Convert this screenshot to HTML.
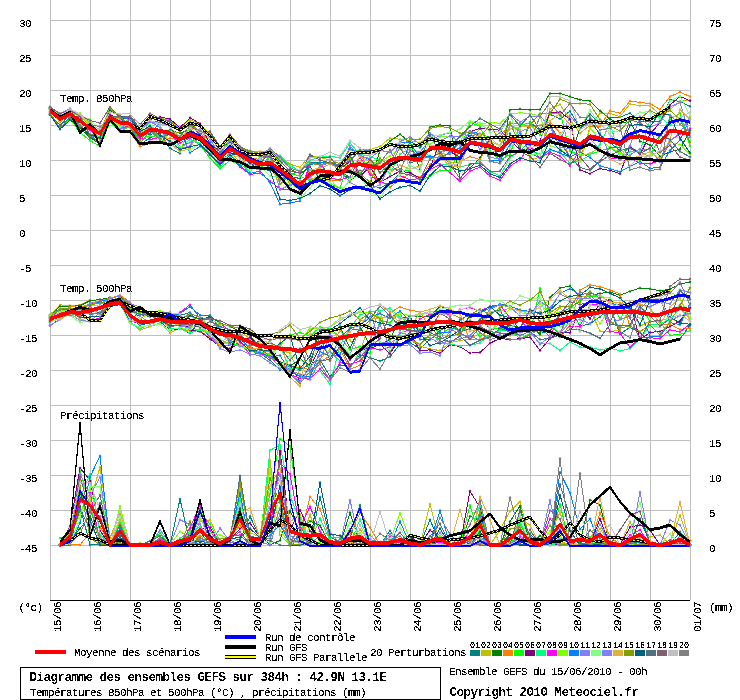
<!DOCTYPE html><html><head><meta charset="utf-8"><style>html,body{margin:0;padding:0;background:#fff;width:740px;height:700px;overflow:hidden}svg{display:block}.t{font-family:"Liberation Mono",monospace;font-size:11px;letter-spacing:-0.6px;fill:#000}.b{font-family:"Liberation Mono",monospace;font-size:12.5px;letter-spacing:-0.5px;font-weight:bold;fill:#000}.s{font-family:"Liberation Mono",monospace;font-size:8.333px;fill:#000}text{filter:url(#cr)}text.b{filter:url(#cb)}</style></head><body><svg width="740" height="700" viewBox="0 0 740 700"><defs><filter id="cr" color-interpolation-filters="sRGB"><feComponentTransfer><feFuncA type="discrete" tableValues="0 0 1 1 1"/></feComponentTransfer></filter><filter id="cb" color-interpolation-filters="sRGB"><feComponentTransfer><feFuncA type="discrete" tableValues="0 1"/></feComponentTransfer></filter></defs><rect width="740" height="700" fill="#fff"/><path d="M50.5 0V600M90.5 0V600M130.5 0V600M170.5 0V600M210.5 0V600M250.5 0V600M290.5 0V600M330.5 0V600M370.5 0V600M410.5 0V600M450.5 0V600M490.5 0V600M530.5 0V600M570.5 0V600M610.5 0V600M650.5 0V600M690.5 0V600M50 20.5H690M50 55.5H690M50 90.5H690M50 125.5H690M50 160.5H690M50 195.5H690M50 230.5H690M50 265.5H690M50 300.5H690M50 335.5H690M50 370.5H690M50 405.5H690M50 440.5H690M50 475.5H690M50 510.5H690M50 545.5H690" stroke="#c0c0c0" stroke-width="1" fill="none" shape-rendering="crispEdges"/><path d="M50 600.5H690" stroke="#000" stroke-width="1" shape-rendering="crispEdges"/><text class="t" transform="translate(19 26.6) scale(1.0000 1.0)">30</text><text class="t" transform="translate(19 61.6) scale(1.0000 1.0)">25</text><text class="t" transform="translate(19 96.6) scale(1.0000 1.0)">20</text><text class="t" transform="translate(19 131.6) scale(1.0000 1.0)">15</text><text class="t" transform="translate(19 166.6) scale(1.0000 1.0)">10</text><text class="t" transform="translate(19 201.6) scale(1.0000 1.0)">5</text><text class="t" transform="translate(19 236.6) scale(1.0000 1.0)">0</text><text class="t" transform="translate(19 271.6) scale(1.0000 1.0)">-5</text><text class="t" transform="translate(19 306.6) scale(1.0000 1.0)">-10</text><text class="t" transform="translate(19 341.6) scale(1.0000 1.0)">-15</text><text class="t" transform="translate(19 376.6) scale(1.0000 1.0)">-20</text><text class="t" transform="translate(19 411.6) scale(1.0000 1.0)">-25</text><text class="t" transform="translate(19 446.6) scale(1.0000 1.0)">-30</text><text class="t" transform="translate(19 481.6) scale(1.0000 1.0)">-35</text><text class="t" transform="translate(19 516.6) scale(1.0000 1.0)">-40</text><text class="t" transform="translate(19 551.6) scale(1.0000 1.0)">-45</text><text class="t" transform="translate(709 26.6) scale(1.0000 1.0)">75</text><text class="t" transform="translate(709 61.6) scale(1.0000 1.0)">70</text><text class="t" transform="translate(709 96.6) scale(1.0000 1.0)">65</text><text class="t" transform="translate(709 131.6) scale(1.0000 1.0)">60</text><text class="t" transform="translate(709 166.6) scale(1.0000 1.0)">55</text><text class="t" transform="translate(709 201.6) scale(1.0000 1.0)">50</text><text class="t" transform="translate(709 236.6) scale(1.0000 1.0)">45</text><text class="t" transform="translate(709 271.6) scale(1.0000 1.0)">40</text><text class="t" transform="translate(709 306.6) scale(1.0000 1.0)">35</text><text class="t" transform="translate(709 341.6) scale(1.0000 1.0)">30</text><text class="t" transform="translate(709 376.6) scale(1.0000 1.0)">25</text><text class="t" transform="translate(709 411.6) scale(1.0000 1.0)">20</text><text class="t" transform="translate(709 446.6) scale(1.0000 1.0)">15</text><text class="t" transform="translate(709 481.6) scale(1.0000 1.0)">10</text><text class="t" transform="translate(709 516.6) scale(1.0000 1.0)">5</text><text class="t" transform="translate(709 551.6) scale(1.0000 1.0)">0</text><text class="t" transform="translate(18.5 611) scale(1.0000 1.0)">(°c)</text><text class="t" transform="translate(709 611) scale(1.0000 1.0)">(mm)</text><text class="t" transform="translate(61 632) rotate(-90) scale(1.0000 1.0)">15/06</text><text class="t" transform="translate(101 632) rotate(-90) scale(1.0000 1.0)">16/06</text><text class="t" transform="translate(141 632) rotate(-90) scale(1.0000 1.0)">17/06</text><text class="t" transform="translate(181 632) rotate(-90) scale(1.0000 1.0)">18/06</text><text class="t" transform="translate(221 632) rotate(-90) scale(1.0000 1.0)">19/06</text><text class="t" transform="translate(261 632) rotate(-90) scale(1.0000 1.0)">20/06</text><text class="t" transform="translate(301 632) rotate(-90) scale(1.0000 1.0)">21/06</text><text class="t" transform="translate(341 632) rotate(-90) scale(1.0000 1.0)">22/06</text><text class="t" transform="translate(381 632) rotate(-90) scale(1.0000 1.0)">23/06</text><text class="t" transform="translate(421 632) rotate(-90) scale(1.0000 1.0)">24/06</text><text class="t" transform="translate(461 632) rotate(-90) scale(1.0000 1.0)">25/06</text><text class="t" transform="translate(501 632) rotate(-90) scale(1.0000 1.0)">26/06</text><text class="t" transform="translate(541 632) rotate(-90) scale(1.0000 1.0)">27/06</text><text class="t" transform="translate(581 632) rotate(-90) scale(1.0000 1.0)">28/06</text><text class="t" transform="translate(621 632) rotate(-90) scale(1.0000 1.0)">29/06</text><text class="t" transform="translate(661 632) rotate(-90) scale(1.0000 1.0)">30/06</text><text class="t" transform="translate(701 632) rotate(-90) scale(1.0000 1.0)">01/07</text><text class="t" transform="translate(60 101.5) scale(1.0000 1.0)">Temp. 850hPa</text><text class="t" transform="translate(60 291.5) scale(1.0000 1.0)">Temp. 500hPa</text><text class="t" transform="translate(60 418.5) scale(1.0000 1.0)">Précipitations</text><rect x="35" y="650" width="31" height="4" fill="#ff0000"/><text class="t" transform="translate(74 656) scale(1.0000 1.0)">Moyenne des scénarios</text><rect x="225" y="635" width="31" height="4" fill="#0000ff"/><rect x="225" y="645" width="31" height="4" fill="#000"/><rect x="225" y="655" width="31" height="4" fill="#000"/><rect x="225" y="656" width="31" height="2" fill="#ffff00"/><text class="t" transform="translate(265 641) scale(1.0000 1.0)">Run de contrôle</text><text class="t" transform="translate(265 651) scale(1.0000 1.0)">Run GFS</text><text class="t" transform="translate(265 661) scale(1.0000 1.0)">Run GFS Parallele</text><text class="t" transform="translate(370 655.5) scale(1.0000 1.0)">20 Perturbations</text><rect x="470" y="650" width="10" height="6" fill="#008080"/><text class="s" x="470" y="647.5">01</text><rect x="481" y="650" width="10" height="6" fill="#c0c000"/><text class="s" x="481" y="647.5">02</text><rect x="492" y="650" width="10" height="6" fill="#008000"/><text class="s" x="492" y="647.5">03</text><rect x="503" y="650" width="10" height="6" fill="#ff8000"/><text class="s" x="503" y="647.5">04</text><rect x="514" y="650" width="10" height="6" fill="#00ff00"/><text class="s" x="514" y="647.5">05</text><rect x="525" y="650" width="10" height="6" fill="#800080"/><text class="s" x="525" y="647.5">06</text><rect x="536" y="650" width="10" height="6" fill="#00ff80"/><text class="s" x="536" y="647.5">07</text><rect x="547" y="650" width="10" height="6" fill="#ff00ff"/><text class="s" x="547" y="647.5">08</text><rect x="558" y="650" width="10" height="6" fill="#80ff00"/><text class="s" x="558" y="647.5">09</text><rect x="569" y="650" width="10" height="6" fill="#0080ff"/><text class="s" x="569" y="647.5">10</text><rect x="580" y="650" width="10" height="6" fill="#8080ff"/><text class="s" x="580" y="647.5">11</text><rect x="591" y="650" width="10" height="6" fill="#80ff80"/><text class="s" x="591" y="647.5">12</text><rect x="602" y="650" width="10" height="6" fill="#8080ff"/><text class="s" x="602" y="647.5">13</text><rect x="613" y="650" width="10" height="6" fill="#e0b040"/><text class="s" x="613" y="647.5">14</text><rect x="624" y="650" width="10" height="6" fill="#80a000"/><text class="s" x="624" y="647.5">15</text><rect x="635" y="650" width="10" height="6" fill="#006080"/><text class="s" x="635" y="647.5">16</text><rect x="646" y="650" width="10" height="6" fill="#507080"/><text class="s" x="646" y="647.5">17</text><rect x="657" y="650" width="10" height="6" fill="#806070"/><text class="s" x="657" y="647.5">18</text><rect x="668" y="650" width="10" height="6" fill="#c0c0c0"/><text class="s" x="668" y="647.5">19</text><rect x="679" y="650" width="10" height="6" fill="#808080"/><text class="s" x="679" y="647.5">20</text><rect x="20.5" y="667.5" width="420" height="32" fill="none" stroke="#000" stroke-width="1"/><text class="b" x="29.5" y="681">Diagramme des ensembles GEFS sur 384h : 42.9N 13.1E</text><text class="t" transform="translate(30 696) scale(1.0000 1.0)">Températures 850hPa et 500hPa (°C) , précipitations (mm)</text><text class="t" transform="translate(449 674.6) scale(1.0000 1.0)">Ensemble GEFS du 15/06/2010 - 00h</text><text class="b" x="449.5" y="696.3">Copyright 2010 Meteociel.fr</text><defs><marker id="k0" markerUnits="userSpaceOnUse" markerWidth="5" markerHeight="5" refX="2.5" refY="2.5" overflow="visible"><path d="M2.5 1L4 2.5 2.5 4 1 2.5z" fill="#008080"/></marker><marker id="k1" markerUnits="userSpaceOnUse" markerWidth="5" markerHeight="5" refX="2.5" refY="2.5" overflow="visible"><path d="M2.5 1L4 2.5 2.5 4 1 2.5z" fill="#c0c000"/></marker><marker id="k2" markerUnits="userSpaceOnUse" markerWidth="5" markerHeight="5" refX="2.5" refY="2.5" overflow="visible"><path d="M2.5 1L4 2.5 2.5 4 1 2.5z" fill="#008000"/></marker><marker id="k3" markerUnits="userSpaceOnUse" markerWidth="5" markerHeight="5" refX="2.5" refY="2.5" overflow="visible"><path d="M2.5 1L4 2.5 2.5 4 1 2.5z" fill="#ff8000"/></marker><marker id="k4" markerUnits="userSpaceOnUse" markerWidth="5" markerHeight="5" refX="2.5" refY="2.5" overflow="visible"><path d="M2.5 1L4 2.5 2.5 4 1 2.5z" fill="#00ff00"/></marker><marker id="k5" markerUnits="userSpaceOnUse" markerWidth="5" markerHeight="5" refX="2.5" refY="2.5" overflow="visible"><path d="M2.5 1L4 2.5 2.5 4 1 2.5z" fill="#800080"/></marker><marker id="k6" markerUnits="userSpaceOnUse" markerWidth="5" markerHeight="5" refX="2.5" refY="2.5" overflow="visible"><path d="M2.5 1L4 2.5 2.5 4 1 2.5z" fill="#00ff80"/></marker><marker id="k7" markerUnits="userSpaceOnUse" markerWidth="5" markerHeight="5" refX="2.5" refY="2.5" overflow="visible"><path d="M2.5 1L4 2.5 2.5 4 1 2.5z" fill="#ff00ff"/></marker><marker id="k8" markerUnits="userSpaceOnUse" markerWidth="5" markerHeight="5" refX="2.5" refY="2.5" overflow="visible"><path d="M2.5 1L4 2.5 2.5 4 1 2.5z" fill="#80ff00"/></marker><marker id="k9" markerUnits="userSpaceOnUse" markerWidth="5" markerHeight="5" refX="2.5" refY="2.5" overflow="visible"><path d="M2.5 1L4 2.5 2.5 4 1 2.5z" fill="#0080ff"/></marker><marker id="k10" markerUnits="userSpaceOnUse" markerWidth="5" markerHeight="5" refX="2.5" refY="2.5" overflow="visible"><path d="M2.5 1L4 2.5 2.5 4 1 2.5z" fill="#8080ff"/></marker><marker id="k11" markerUnits="userSpaceOnUse" markerWidth="5" markerHeight="5" refX="2.5" refY="2.5" overflow="visible"><path d="M2.5 1L4 2.5 2.5 4 1 2.5z" fill="#80ff80"/></marker><marker id="k12" markerUnits="userSpaceOnUse" markerWidth="5" markerHeight="5" refX="2.5" refY="2.5" overflow="visible"><path d="M2.5 1L4 2.5 2.5 4 1 2.5z" fill="#8080ff"/></marker><marker id="k13" markerUnits="userSpaceOnUse" markerWidth="5" markerHeight="5" refX="2.5" refY="2.5" overflow="visible"><path d="M2.5 1L4 2.5 2.5 4 1 2.5z" fill="#e0b040"/></marker><marker id="k14" markerUnits="userSpaceOnUse" markerWidth="5" markerHeight="5" refX="2.5" refY="2.5" overflow="visible"><path d="M2.5 1L4 2.5 2.5 4 1 2.5z" fill="#80a000"/></marker><marker id="k15" markerUnits="userSpaceOnUse" markerWidth="5" markerHeight="5" refX="2.5" refY="2.5" overflow="visible"><path d="M2.5 1L4 2.5 2.5 4 1 2.5z" fill="#006080"/></marker><marker id="k16" markerUnits="userSpaceOnUse" markerWidth="5" markerHeight="5" refX="2.5" refY="2.5" overflow="visible"><path d="M2.5 1L4 2.5 2.5 4 1 2.5z" fill="#507080"/></marker><marker id="k17" markerUnits="userSpaceOnUse" markerWidth="5" markerHeight="5" refX="2.5" refY="2.5" overflow="visible"><path d="M2.5 1L4 2.5 2.5 4 1 2.5z" fill="#806070"/></marker><marker id="k18" markerUnits="userSpaceOnUse" markerWidth="5" markerHeight="5" refX="2.5" refY="2.5" overflow="visible"><path d="M2.5 1L4 2.5 2.5 4 1 2.5z" fill="#c0c0c0"/></marker><marker id="k19" markerUnits="userSpaceOnUse" markerWidth="5" markerHeight="5" refX="2.5" refY="2.5" overflow="visible"><path d="M2.5 1L4 2.5 2.5 4 1 2.5z" fill="#808080"/></marker></defs><polyline points="50,114.4 60,125.2 70,114.1 80,124.8 90,137.4 100,142.2 110,119.1 120,118.8 130,127.1 140,144.6 150,137.7 160,133.6 170,148.2 180,153.6 190,123.7 200,132.4 210,132.5 220,147.7 230,141.7 240,157.8 250,162.2 260,163.2 270,166.9 280,179.9 290,176.5 300,178.5 310,162.7 320,162.4 330,177.2 340,170.5 350,178.0 360,175.3 370,184.9 380,188.0 390,183.0 400,173.9 410,141.2 420,147.6 430,135.8 440,143.5 450,150.2 460,142.4 470,135.8 480,134.1 490,137.5 500,159.1 510,133.6 520,148.2 530,122.3 540,130.3 550,114.3 560,118.8 570,111.2 580,127.5 590,114.2 600,123.9 610,117.9 620,117.1 630,113.2 640,121.2 650,121.5 660,121.0 670,99.7 680,101.6 690,106.3" fill="none" stroke="#008080" stroke-width="1" shape-rendering="crispEdges" marker-start="url(#k0)" marker-mid="url(#k0)" marker-end="url(#k0)"/><polyline points="50,108.4 60,115.9 70,110.7 80,116.0 90,126.1 100,139.9 110,119.7 120,125.1 130,118.2 140,128.5 150,118.4 160,118.2 170,120.3 180,128.9 190,119.3 200,124.6 210,133.7 220,149.8 230,135.6 240,147.3 250,150.9 260,151.5 270,151.6 280,156.7 290,164.2 300,167.4 310,155.2 320,157.6 330,159.8 340,163.8 350,150.0 360,150.2 370,149.7 380,146.5 390,138.0 400,139.2 410,140.6 420,142.6 430,136.3 440,152.0 450,162.0 460,162.4 470,141.4 480,128.2 490,141.4 500,145.6 510,125.3 520,129.7 530,158.3 540,157.9 550,108.9 560,104.4 570,119.6 580,133.4 590,125.2 600,113.2 610,113.4 620,116.5 630,103.9 640,105.7 650,106.0 660,114.4 670,109.4 680,101.6 690,99.9" fill="none" stroke="#c0c000" stroke-width="1" shape-rendering="crispEdges" marker-start="url(#k1)" marker-mid="url(#k1)" marker-end="url(#k1)"/><polyline points="50,108.0 60,115.5 70,118.5 80,128.0 90,137.4 100,143.8 110,119.5 120,128.2 130,124.6 140,135.5 150,134.2 160,133.1 170,129.9 180,133.2 190,129.4 200,136.8 210,154.9 220,153.7 230,139.2 240,150.1 250,156.9 260,168.0 270,168.1 280,176.2 290,169.3 300,173.6 310,167.0 320,178.3 330,173.7 340,171.8 350,179.8 360,174.6 370,185.0 380,150.0 390,141.1 400,134.2 410,142.3 420,169.4 430,127.2 440,125.0 450,126.0 460,178.4 470,167.9 480,157.7 490,138.9 500,162.4 510,110.0 520,109.0 530,110.0 540,109.4 550,93.4 560,93.4 570,96.6 580,99.8 590,101.1 600,110.7 610,119.2 620,123.6 630,120.9 640,141.4 650,144.9 660,156.4 670,151.9 680,149.3 690,130.2" fill="none" stroke="#008000" stroke-width="1" shape-rendering="crispEdges" marker-start="url(#k2)" marker-mid="url(#k2)" marker-end="url(#k2)"/><polyline points="50,107.5 60,113.5 70,108.7 80,115.7 90,122.6 100,130.3 110,119.3 120,131.5 130,132.0 140,146.6 150,143.4 160,142.8 170,138.3 180,140.1 190,128.4 200,130.2 210,142.5 220,165.2 230,152.0 240,162.0 250,157.5 260,159.6 270,151.9 280,160.7 290,185.8 300,180.7 310,179.5 320,176.2 330,180.4 340,180.2 350,155.5 360,153.0 370,172.7 380,181.0 390,187.4 400,179.2 410,174.0 420,177.5 430,164.5 440,156.8 450,143.4 460,161.4 470,156.6 480,159.6 490,140.4 500,136.0 510,123.7 520,123.5 530,126.5 540,125.5 550,121.6 560,132.8 570,158.7 580,160.2 590,127.0 600,126.4 610,110.7 620,113.3 630,101.1 640,102.4 650,103.6 660,109.4 670,96.6 680,92.1 690,96.6" fill="none" stroke="#ff8000" stroke-width="1" shape-rendering="crispEdges" marker-start="url(#k3)" marker-mid="url(#k3)" marker-end="url(#k3)"/><polyline points="50,114.0 60,128.1 70,118.9 80,132.4 90,140.5 100,146.5 110,121.6 120,131.2 130,126.8 140,139.5 150,135.6 160,138.6 170,144.8 180,137.6 190,138.8 200,145.0 210,158.2 220,168.5 230,160.4 240,164.9 250,168.7 260,169.2 270,157.1 280,178.9 290,173.6 300,176.1 310,180.7 320,178.7 330,184.4 340,187.9 350,158.1 360,173.9 370,161.2 380,171.9 390,169.4 400,169.4 410,171.3 420,181.3 430,175.8 440,170.4 450,170.2 460,149.3 470,122.3 480,126.2 490,151.0 500,160.2 510,154.4 520,124.9 530,123.0 540,135.0 550,114.1 560,112.7 570,150.9 580,155.5 590,154.2 600,150.9 610,148.0 620,153.5 630,146.9 640,152.2 650,156.8 660,135.6 670,119.4 680,113.3 690,146.1" fill="none" stroke="#00ff00" stroke-width="1" shape-rendering="crispEdges" marker-start="url(#k4)" marker-mid="url(#k4)" marker-end="url(#k4)"/><polyline points="50,111.9 60,116.8 70,118.2 80,117.8 90,128.9 100,130.3 110,114.4 120,119.6 130,117.8 140,131.6 150,119.6 160,116.9 170,119.0 180,127.7 190,117.8 200,123.6 210,144.4 220,150.6 230,152.7 240,155.7 250,153.6 260,153.4 270,150.6 280,164.0 290,174.1 300,193.0 310,183.1 320,175.7 330,178.7 340,168.6 350,161.3 360,176.4 370,166.9 380,182.3 390,176.5 400,171.1 410,172.8 420,178.0 430,168.5 440,141.4 450,151.6 460,157.0 470,131.7 480,128.4 490,129.5 500,130.1 510,140.4 520,149.5 530,149.9 540,141.1 550,112.4 560,112.0 570,119.3 580,169.9 590,173.7 600,168.6 610,170.5 620,173.7 630,146.4 640,154.7 650,134.2 660,122.5 670,105.0 680,96.4 690,100.8" fill="none" stroke="#800080" stroke-width="1" shape-rendering="crispEdges" marker-start="url(#k5)" marker-mid="url(#k5)" marker-end="url(#k5)"/><polyline points="50,110.9 60,116.6 70,117.2 80,125.3 90,135.7 100,136.6 110,119.3 120,127.0 130,125.1 140,130.4 150,127.4 160,137.5 170,130.9 180,148.4 190,139.4 200,143.2 210,152.9 220,167.3 230,154.6 240,163.4 250,172.1 260,160.9 270,154.3 280,155.5 290,165.7 300,170.9 310,160.3 320,157.2 330,156.0 340,158.0 350,143.0 360,154.6 370,156.1 380,160.5 390,173.7 400,154.0 410,148.9 420,152.3 430,155.8 440,164.6 450,163.7 460,167.0 470,164.5 480,161.5 490,171.7 500,175.7 510,157.7 520,151.3 530,151.3 540,153.8 550,150.5 560,152.1 570,163.5 580,160.6 590,155.2 600,144.5 610,122.9 620,158.2 630,151.6 640,151.0 650,120.0 660,116.4 670,125.3 680,118.2 690,137.6" fill="none" stroke="#00ff80" stroke-width="1" shape-rendering="crispEdges" marker-start="url(#k6)" marker-mid="url(#k6)" marker-end="url(#k6)"/><polyline points="50,107.1 60,117.7 70,112.9 80,121.8 90,130.1 100,139.0 110,121.1 120,129.2 130,125.0 140,138.0 150,139.6 160,137.2 170,134.6 180,143.0 190,137.7 200,131.4 210,149.0 220,162.3 230,157.6 240,166.9 250,174.5 260,173.0 270,181.0 280,188.9 290,189.6 300,193.0 310,163.2 320,163.6 330,178.3 340,179.7 350,177.4 360,157.0 370,174.6 380,182.4 390,184.0 400,175.4 410,179.9 420,178.3 430,169.5 440,164.4 450,172.6 460,181.2 470,171.0 480,167.3 490,176.0 500,180.3 510,166.2 520,159.7 530,145.7 540,158.3 550,152.1 560,156.2 570,166.0 580,149.4 590,143.3 600,150.2 610,158.5 620,158.9 630,157.1 640,163.7 650,163.8 660,160.7 670,140.6 680,134.1 690,128.5" fill="none" stroke="#ff00ff" stroke-width="1" shape-rendering="crispEdges" marker-start="url(#k7)" marker-mid="url(#k7)" marker-end="url(#k7)"/><polyline points="50,112.4 60,120.6 70,115.1 80,113.0 90,124.1 100,132.4 110,107.5 120,117.8 130,116.5 140,129.4 150,121.9 160,125.0 170,143.5 180,151.5 190,126.4 200,131.0 210,137.4 220,147.8 230,137.7 240,147.2 250,153.0 260,156.8 270,149.6 280,162.5 290,182.8 300,190.3 310,182.9 320,171.9 330,178.3 340,191.7 350,180.8 360,160.9 370,163.4 380,162.0 390,155.9 400,149.0 410,145.1 420,143.9 430,144.3 440,137.1 450,136.4 460,142.0 470,121.6 480,124.6 490,121.9 500,123.5 510,114.0 520,112.8 530,113.4 540,116.0 550,145.8 560,148.8 570,157.1 580,162.1 590,128.3 600,139.2 610,147.4 620,152.8 630,157.5 640,160.6 650,155.0 660,151.7 670,142.4 680,144.5 690,154.3" fill="none" stroke="#80ff00" stroke-width="1" shape-rendering="crispEdges" marker-start="url(#k8)" marker-mid="url(#k8)" marker-end="url(#k8)"/><polyline points="50,108.3 60,120.1 70,112.7 80,125.9 90,135.3 100,139.0 110,120.5 120,116.9 130,119.5 140,132.3 150,133.8 160,122.7 170,121.7 180,129.7 190,152.7 200,146.4 210,142.6 220,159.6 230,154.7 240,165.7 250,173.5 260,170.9 270,182.6 280,204.2 290,203.1 300,201.0 310,164.5 320,163.0 330,162.5 340,166.5 350,148.3 360,155.5 370,159.9 380,167.2 390,163.7 400,142.3 410,142.5 420,158.0 430,156.2 440,158.7 450,151.9 460,147.8 470,131.4 480,133.8 490,160.9 500,160.5 510,144.9 520,132.5 530,153.3 540,157.8 550,149.2 560,153.0 570,157.3 580,151.9 590,157.5 600,165.7 610,168.7 620,171.8 630,166.3 640,161.4 650,168.3 660,167.3 670,150.6 680,140.1 690,119.0" fill="none" stroke="#0080ff" stroke-width="1" shape-rendering="crispEdges" marker-start="url(#k9)" marker-mid="url(#k9)" marker-end="url(#k9)"/><polyline points="50,108.8 60,116.5 70,117.2 80,126.2 90,134.9 100,142.6 110,119.8 120,129.0 130,127.0 140,131.5 150,122.0 160,122.1 170,126.6 180,147.0 190,142.6 200,138.6 210,153.9 220,154.4 230,147.9 240,152.7 250,161.1 260,169.4 270,154.2 280,180.5 290,173.2 300,185.8 310,170.3 320,174.6 330,178.8 340,171.0 350,145.8 360,156.5 370,158.5 380,150.3 390,152.3 400,142.7 410,154.9 420,152.1 430,140.1 440,135.5 450,132.6 460,145.0 470,131.7 480,149.6 490,138.9 500,132.8 510,113.9 520,122.0 530,116.1 540,116.1 550,126.6 560,141.4 570,115.6 580,127.8 590,122.8 600,133.1 610,155.1 620,160.1 630,154.9 640,149.0 650,149.7 660,162.2 670,141.1 680,132.5 690,116.5" fill="none" stroke="#8080ff" stroke-width="1" shape-rendering="crispEdges" marker-start="url(#k10)" marker-mid="url(#k10)" marker-end="url(#k10)"/><polyline points="50,106.5 60,115.3 70,111.9 80,117.0 90,118.9 100,132.3 110,118.1 120,127.4 130,124.8 140,130.0 150,124.2 160,136.5 170,140.6 180,146.4 190,150.4 200,143.0 210,154.3 220,160.3 230,155.3 240,156.6 250,170.1 260,165.9 270,176.0 280,177.1 290,186.3 300,198.9 310,187.9 320,176.3 330,182.4 340,193.4 350,178.7 360,175.9 370,191.9 380,197.6 390,184.1 400,174.4 410,165.1 420,171.4 430,136.9 440,134.9 450,132.1 460,129.3 470,120.8 480,122.4 490,132.2 500,131.2 510,113.4 520,144.1 530,154.3 540,154.8 550,140.6 560,134.7 570,123.7 580,128.3 590,110.0 600,124.2 610,131.5 620,130.9 630,118.7 640,112.2 650,111.8 660,119.0 670,101.3 680,96.1 690,116.1" fill="none" stroke="#80ff80" stroke-width="1" shape-rendering="crispEdges" marker-start="url(#k11)" marker-mid="url(#k11)" marker-end="url(#k11)"/><polyline points="50,111.8 60,114.3 70,108.6 80,114.8 90,135.9 100,143.3 110,120.9 120,129.7 130,118.9 140,129.5 150,121.5 160,127.4 170,144.8 180,148.4 190,146.1 200,129.2 210,139.3 220,154.9 230,140.7 240,150.4 250,163.8 260,158.1 270,156.9 280,189.7 290,184.9 300,182.1 310,177.6 320,166.3 330,162.1 340,172.0 350,182.3 360,187.6 370,188.9 380,184.7 390,164.4 400,141.7 410,136.9 420,144.3 430,133.0 440,140.7 450,136.1 460,136.5 470,131.0 480,136.9 490,157.0 500,159.3 510,124.4 520,131.9 530,127.6 540,145.6 550,126.6 560,147.4 570,148.4 580,151.6 590,138.8 600,149.8 610,156.1 620,159.8 630,145.7 640,116.4 650,127.5 660,122.8 670,107.0 680,102.4 690,136.2" fill="none" stroke="#8080ff" stroke-width="1" shape-rendering="crispEdges" marker-start="url(#k12)" marker-mid="url(#k12)" marker-end="url(#k12)"/><polyline points="50,108.9 60,122.8 70,111.2 80,114.8 90,120.1 100,141.0 110,118.4 120,119.1 130,127.4 140,133.7 150,126.8 160,129.9 170,142.9 180,151.4 190,148.6 200,130.0 210,137.9 220,150.3 230,144.2 240,157.4 250,166.5 260,169.7 270,166.8 280,183.8 290,174.0 300,192.9 310,169.9 320,168.1 330,164.3 340,168.0 350,172.2 360,156.3 370,161.8 380,165.6 390,172.8 400,165.3 410,168.9 420,165.8 430,146.4 440,155.4 450,167.0 460,166.4 470,140.7 480,134.0 490,155.1 500,146.2 510,128.8 520,127.0 530,125.8 540,131.9 550,121.0 560,113.4 570,124.8 580,156.0 590,153.2 600,148.2 610,158.9 620,164.0 630,158.5 640,155.9 650,151.8 660,159.0 670,139.4 680,109.4 690,119.3" fill="none" stroke="#e0b040" stroke-width="1" shape-rendering="crispEdges" marker-start="url(#k13)" marker-mid="url(#k13)" marker-end="url(#k13)"/><polyline points="50,113.4 60,127.5 70,118.3 80,125.0 90,135.7 100,131.1 110,109.2 120,116.0 130,126.8 140,140.4 150,127.9 160,139.1 170,132.6 180,132.1 190,121.4 200,132.2 210,145.4 220,151.8 230,139.4 240,147.6 250,150.7 260,153.6 270,151.6 280,184.3 290,174.5 300,171.5 310,163.1 320,165.1 330,161.9 340,163.3 350,170.3 360,174.0 370,182.1 380,158.2 390,166.7 400,147.2 410,139.0 420,139.0 430,128.5 440,126.2 450,128.1 460,133.2 470,132.3 480,136.9 490,125.0 500,140.7 510,122.3 520,146.1 530,125.0 540,113.5 550,113.6 560,99.0 570,103.2 580,103.4 590,104.3 600,119.5 610,126.0 620,130.8 630,119.7 640,118.7 650,110.3 660,115.5 670,110.4 680,119.6 690,141.9" fill="none" stroke="#80a000" stroke-width="1" shape-rendering="crispEdges" marker-start="url(#k14)" marker-mid="url(#k14)" marker-end="url(#k14)"/><polyline points="50,114.8 60,129.2 70,120.0 80,126.9 90,134.9 100,137.9 110,110.6 120,116.6 130,117.2 140,131.6 150,126.1 160,135.7 170,140.9 180,149.6 190,146.7 200,144.6 210,154.6 220,164.3 230,155.3 240,153.8 250,163.6 260,169.2 270,170.3 280,199.3 290,200.4 300,198.5 310,193.4 320,185.8 330,189.0 340,195.7 350,189.7 360,186.9 370,185.1 380,198.9 390,191.9 400,187.3 410,185.5 420,191.0 430,175.4 440,165.9 450,166.3 460,171.1 470,168.8 480,165.2 490,173.8 500,177.6 510,164.0 520,158.0 530,160.8 540,162.5 550,139.7 560,149.9 570,156.7 580,128.3 590,119.2 600,135.0 610,142.6 620,150.5 630,125.2 640,124.7 650,126.8 660,112.4 670,115.3 680,137.9 690,153.1" fill="none" stroke="#006080" stroke-width="1" shape-rendering="crispEdges" marker-start="url(#k15)" marker-mid="url(#k15)" marker-end="url(#k15)"/><polyline points="50,115.0 60,125.3 70,117.9 80,115.7 90,135.3 100,143.3 110,116.6 120,117.0 130,117.2 140,127.9 150,120.7 160,122.4 170,125.8 180,131.0 190,124.9 200,131.2 210,134.8 220,152.4 230,149.2 240,152.2 250,158.8 260,164.9 270,149.9 280,160.5 290,171.4 300,173.0 310,154.5 320,160.3 330,162.7 340,165.2 350,160.9 360,149.9 370,150.2 380,150.2 390,144.5 400,148.0 410,162.5 420,160.8 430,134.8 440,153.2 450,145.9 460,136.5 470,126.4 480,118.6 490,123.9 500,128.8 510,114.5 520,126.0 530,115.0 540,129.6 550,124.2 560,142.2 570,156.7 580,167.6 590,170.2 600,161.6 610,155.2 620,150.5 630,148.2 640,153.5 650,148.1 660,135.1 670,139.5 680,151.6 690,156.9" fill="none" stroke="#507080" stroke-width="1" shape-rendering="crispEdges" marker-start="url(#k16)" marker-mid="url(#k16)" marker-end="url(#k16)"/><polyline points="50,107.0 60,113.6 70,110.6 80,116.0 90,120.5 100,123.2 110,107.0 120,117.4 130,116.3 140,124.5 150,113.6 160,118.6 170,121.3 180,131.0 190,124.5 200,134.6 210,131.2 220,146.4 230,134.5 240,146.4 250,153.1 260,156.1 270,156.6 280,167.0 290,170.9 300,173.3 310,156.3 320,158.1 330,157.0 340,169.7 350,155.5 360,175.6 370,159.2 380,172.7 390,164.5 400,172.8 410,175.1 420,179.2 430,159.2 440,152.6 450,164.1 460,178.7 470,164.0 480,163.1 490,171.0 500,171.1 510,156.3 520,151.5 530,156.3 540,167.3 550,153.2 560,159.6 570,164.5 580,157.1 590,168.9 600,161.0 610,147.7 620,147.2 630,119.6 640,122.9 650,129.4 660,152.3 670,145.2 680,157.0 690,160.2" fill="none" stroke="#806070" stroke-width="1" shape-rendering="crispEdges" marker-start="url(#k17)" marker-mid="url(#k17)" marker-end="url(#k17)"/><polyline points="50,109.2 60,116.2 70,109.3 80,114.2 90,125.4 100,129.0 110,112.6 120,114.1 130,113.6 140,124.9 150,120.3 160,123.9 170,126.5 180,138.0 190,128.2 200,131.7 210,137.2 220,149.8 230,144.7 240,159.4 250,165.5 260,158.7 270,149.1 280,158.7 290,168.1 300,170.8 310,157.9 320,156.6 330,152.3 340,156.2 350,140.5 360,148.1 370,155.3 380,150.1 390,145.6 400,142.7 410,169.0 420,167.6 430,145.6 440,146.0 450,164.8 460,163.6 470,139.5 480,138.5 490,137.7 500,146.1 510,147.9 520,136.9 530,147.3 540,146.3 550,96.8 560,97.0 570,100.8 580,129.6 590,124.4 600,123.5 610,134.5 620,145.3 630,165.9 640,155.9 650,156.8 660,150.4 670,115.6 680,117.9 690,112.5" fill="none" stroke="#c0c0c0" stroke-width="1" shape-rendering="crispEdges" marker-start="url(#k18)" marker-mid="url(#k18)" marker-end="url(#k18)"/><polyline points="50,109.2 60,118.2 70,115.6 80,126.7 90,124.4 100,126.8 110,116.7 120,117.6 130,124.3 140,143.5 150,130.8 160,139.9 170,131.3 180,136.6 190,125.5 200,130.9 210,135.5 220,148.2 230,138.0 240,148.6 250,151.7 260,155.6 270,148.5 280,157.2 290,167.9 300,171.3 310,163.1 320,164.4 330,163.1 340,168.5 350,172.7 360,170.4 370,169.5 380,162.7 390,149.8 400,170.3 410,150.5 420,155.4 430,157.9 440,156.8 450,154.0 460,142.0 470,138.2 480,138.0 490,161.2 500,163.5 510,150.5 520,150.7 530,141.7 540,116.6 550,102.4 560,115.5 570,103.4 580,117.3 590,116.9 600,130.2 610,128.2 620,126.2 630,169.9 640,167.3 650,170.5 660,169.2 670,115.3 680,124.1 690,133.0" fill="none" stroke="#808080" stroke-width="1" shape-rendering="crispEdges" marker-start="url(#k19)" marker-mid="url(#k19)" marker-end="url(#k19)"/><polyline id="L1" points="50,110.0 60,117.0 70,112.0 80,132.5 90,125.0 100,134.0 110,117.8 120,123.0 130,124.1 140,128.8 150,116.5 160,120.0 170,125.0 180,130.0 190,123.0 200,125.5 210,136.0 220,148.0 230,136.0 240,150.7 250,154.5 260,155.0 270,152.0 280,165.7 290,175.0 300,187.3 310,183.0 320,180.5 330,178.0 340,166.0 350,154.0 360,152.4 370,152.4 380,149.7 390,144.3 400,146.6 410,146.6 420,144.5 430,139.0 440,141.2 450,142.8 460,142.3 470,139.0 480,138.6 490,138.0 500,137.5 510,137.0 520,136.5 530,136.0 540,131.5 550,126.2 560,126.8 570,128.1 580,124.9 590,121.0 600,122.3 610,123.2 620,121.6 630,117.8 640,118.4 650,119.7 660,113.3 670,106.9" fill="none" stroke="#000" stroke-width="1" shape-rendering="crispEdges" /><use href="#L1" x="0" y="-1"/><use href="#L1" x="0" y="1"/><polyline points="50,110.0 60,117.0 70,112.0 80,132.5 90,125.0 100,134.0 110,117.8 120,123.0 130,124.1 140,128.8 150,116.5 160,120.0 170,125.0 180,130.0 190,123.0 200,125.5 210,136.0 220,148.0 230,136.0 240,150.7 250,154.5 260,155.0 270,152.0 280,165.7 290,175.0 300,187.3 310,183.0 320,180.5 330,178.0 340,166.0 350,154.0 360,152.4 370,152.4 380,149.7 390,144.3 400,146.6 410,146.6 420,144.5 430,139.0 440,141.2 450,142.8 460,142.3 470,139.0 480,138.6 490,138.0 500,137.5 510,137.0 520,136.5 530,136.0 540,131.5 550,126.2 560,126.8 570,128.1 580,124.9 590,121.0 600,122.3 610,123.2 620,121.6 630,117.8 640,118.4 650,119.7 660,113.3 670,106.9" fill="none" stroke="#ffff00" stroke-width="1" stroke-dasharray="2 2" shape-rendering="crispEdges"/><polyline id="L2" points="50,110.0 60,118.0 70,113.0 80,132.0 90,124.0 100,146.0 110,119.5 120,131.0 130,131.5 140,143.9 150,142.8 160,142.3 170,144.8 180,140.0 190,135.5 200,140.0 210,150.0 220,160.0 230,159.5 240,162.0 250,167.4 260,168.0 270,168.0 280,176.5 290,189.0 300,193.4 310,184.0 320,176.0 330,175.0 340,172.0 350,171.4 360,176.8 370,185.4 380,178.9 390,165.0 400,160.0 410,157.0 420,154.0 430,150.0 440,143.9 450,145.5 460,141.8 470,150.5 480,152.4 490,153.2 500,155.4 510,151.1 520,151.6 530,152.2 540,148.0 550,141.6 560,144.2 570,146.7 580,148.0 590,144.2 600,150.6 610,155.1 620,157.6 630,158.3 640,158.9 650,159.6 660,160.9 670,160.2 680,160.2 690,160.2" fill="none" stroke="#000" stroke-width="1" shape-rendering="crispEdges" /><use href="#L2" x="0" y="-1"/><use href="#L2" x="0" y="1"/><polyline id="L3" points="50,111.1 60,119.5 70,114.1 80,121.3 90,128.4 100,133.8 110,117.6 120,122.8 130,123.9 140,136.1 150,129.9 160,131.0 170,133.6 180,139.9 190,132.0 200,136.2 210,145.4 220,156.2 230,146.5 240,153.0 250,158.4 260,162.5 270,165.0 280,172.0 290,180.0 300,189.0 310,182.6 320,180.4 330,186.0 340,191.9 350,188.1 360,187.6 370,190.3 380,193.0 390,182.7 400,180.1 410,181.8 420,183.4 430,167.5 440,159.0 450,158.3 460,159.0 470,143.3 480,145.0 490,147.2 500,151.0 510,140.7 520,142.4 530,143.4 540,145.1 550,136.5 560,139.7 570,143.0 580,146.2 590,138.4 600,140.4 610,139.0 620,141.6 630,133.9 640,130.6 650,132.6 660,135.1 670,122.3 680,119.7 690,122.3" fill="none" stroke="#0000ff" stroke-width="1" shape-rendering="crispEdges" /><use href="#L3" x="0" y="-1"/><use href="#L3" x="0" y="1"/><polyline id="L4" points="50,111.3 60,119.7 70,114.3 80,121.5 90,128.6 100,134.0 110,117.8 120,123.0 130,124.1 140,136.3 150,130.1 160,131.2 170,133.8 180,140.1 190,134.5 200,138.7 210,147.9 220,158.7 230,149.0 240,155.5 250,160.9 260,165.0 270,163.1 280,170.1 290,177.7 300,185.2 310,174.4 320,171.2 330,172.8 340,175.1 350,165.9 360,164.8 370,166.5 380,168.6 390,161.0 400,158.1 410,159.0 420,160.1 430,148.7 440,148.2 450,149.8 460,152.5 470,142.8 480,144.5 490,146.7 500,150.5 510,140.2 520,141.9 530,142.9 540,144.6 550,135.0 560,138.2 570,141.5 580,144.7 590,136.9 600,138.9 610,141.5 620,144.6 630,137.6 640,136.9 650,140.1 660,142.7 670,131.1 680,132.4 690,135.0" fill="none" stroke="#ff0000" stroke-width="1" shape-rendering="crispEdges" /><use href="#L4" x="0" y="-2"/><use href="#L4" x="0" y="-1"/><use href="#L4" x="0" y="1"/><polyline points="50,314.9 60,309.0 70,307.9 80,309.4 90,309.8 100,313.3 110,305.7 120,303.3 130,317.6 140,314.6 150,316.7 160,314.0 170,313.7 180,315.3 190,312.5 200,324.6 210,337.5 220,347.0 230,344.9 240,343.4 250,346.2 260,353.0 270,360.2 280,369.9 290,365.5 300,369.9 310,363.9 320,359.6 330,376.7 340,365.0 350,366.7 360,355.0 370,357.5 380,361.1 390,356.7 400,344.2 410,342.8 420,348.5 430,339.5 440,330.8 450,325.0 460,331.6 470,329.1 480,319.4 490,312.8 500,310.0 510,328.7 520,331.5 530,330.7 540,332.5 550,331.4 560,312.5 570,308.2 580,326.4 590,323.6 600,316.9 610,307.6 620,334.1 630,327.3 640,332.6 650,341.0 660,344.1 670,341.5 680,338.9 690,325.2" fill="none" stroke="#008080" stroke-width="1" shape-rendering="crispEdges" marker-start="url(#k0)" marker-mid="url(#k0)" marker-end="url(#k0)"/><polyline points="50,314.7 60,304.9 70,305.5 80,304.9 90,300.0 100,301.9 110,305.5 120,300.8 130,322.3 140,330.1 150,326.5 160,323.2 170,333.2 180,328.2 190,331.2 200,328.8 210,333.7 220,344.8 230,341.9 240,330.9 250,339.2 260,343.7 270,342.6 280,349.7 290,353.2 300,375.0 310,373.5 320,359.0 330,348.9 340,330.6 350,340.1 360,352.4 370,320.9 380,312.1 390,343.3 400,336.8 410,339.8 420,346.3 430,348.9 440,350.6 450,342.7 460,340.6 470,338.8 480,333.6 490,336.7 500,335.2 510,335.5 520,331.2 530,325.4 540,335.2 550,316.4 560,307.7 570,319.8 580,309.7 590,309.6 600,331.0 610,331.9 620,329.8 630,306.2 640,326.3 650,321.2 660,321.3 670,317.3 680,323.2 690,308.5" fill="none" stroke="#c0c000" stroke-width="1" shape-rendering="crispEdges" marker-start="url(#k1)" marker-mid="url(#k1)" marker-end="url(#k1)"/><polyline points="50,316.0 60,306.3 70,306.2 80,305.8 90,300.7 100,299.5 110,297.6 120,296.2 130,307.5 140,319.4 150,322.7 160,321.5 170,330.3 180,328.6 190,333.3 200,321.1 210,316.1 220,323.1 230,326.4 240,331.6 250,335.0 260,349.1 270,355.4 280,361.9 290,366.1 300,359.1 310,365.1 320,329.8 330,333.4 340,326.6 350,348.0 360,326.8 370,345.1 380,345.1 390,339.2 400,318.6 410,316.7 420,316.1 430,316.6 440,306.3 450,310.7 460,312.1 470,317.3 480,315.4 490,329.4 500,328.4 510,325.2 520,327.6 530,324.7 540,334.3 550,297.6 560,288.0 570,286.1 580,296.9 590,295.7 600,293.4 610,292.0 620,295.2 630,291.4 640,288.1 650,288.8 660,290.7 670,289.2 680,284.1 690,281.9" fill="none" stroke="#008000" stroke-width="1" shape-rendering="crispEdges" marker-start="url(#k2)" marker-mid="url(#k2)" marker-end="url(#k2)"/><polyline points="50,323.1 60,313.0 70,306.7 80,307.2 90,304.0 100,301.0 110,298.1 120,295.3 130,302.2 140,311.5 150,314.8 160,320.4 170,327.1 180,323.6 190,330.1 200,330.6 210,338.0 220,345.6 230,341.5 240,339.6 250,347.1 260,352.0 270,353.6 280,362.7 290,369.8 300,366.6 310,369.9 320,362.3 330,355.7 340,348.7 350,369.2 360,365.3 370,341.2 380,304.6 390,312.3 400,307.1 410,310.2 420,311.9 430,327.6 440,313.8 450,313.8 460,317.7 470,339.1 480,339.6 490,334.8 500,330.4 510,329.0 520,330.0 530,323.1 540,311.8 550,332.1 560,337.0 570,325.1 580,289.9 590,284.8 600,286.7 610,290.0 620,293.9 630,326.8 640,304.7 650,307.3 660,324.7 670,324.7 680,329.4 690,328.3" fill="none" stroke="#ff8000" stroke-width="1" shape-rendering="crispEdges" marker-start="url(#k3)" marker-mid="url(#k3)" marker-end="url(#k3)"/><polyline points="50,315.7 60,309.0 70,308.9 80,309.6 90,305.0 100,306.4 110,304.6 120,301.0 130,308.9 140,312.8 150,311.9 160,314.0 170,316.0 180,324.8 190,326.5 200,320.9 210,331.3 220,339.4 230,344.2 240,345.9 250,351.5 260,352.8 270,350.8 280,345.0 290,335.0 300,332.4 310,336.3 320,327.0 330,328.4 340,337.1 350,349.8 360,346.5 370,353.6 380,320.5 390,322.5 400,312.9 410,331.5 420,331.0 430,322.6 440,334.1 450,328.4 460,329.6 470,323.2 480,336.7 490,329.1 500,327.8 510,330.7 520,338.4 530,333.9 540,288.2 550,320.7 560,336.9 570,308.3 580,300.3 590,295.6 600,297.4 610,297.9 620,319.3 630,302.6 640,305.4 650,321.4 660,322.1 670,335.2 680,334.5 690,330.6" fill="none" stroke="#00ff00" stroke-width="1" shape-rendering="crispEdges" marker-start="url(#k4)" marker-mid="url(#k4)" marker-end="url(#k4)"/><polyline points="50,325.6 60,319.0 70,310.9 80,311.8 90,313.0 100,307.4 110,305.3 120,302.9 130,314.1 140,323.5 150,323.2 160,320.5 170,324.7 180,319.3 190,329.8 200,331.5 210,338.9 220,346.4 230,348.5 240,343.2 250,337.3 260,348.4 270,342.2 280,363.0 290,365.6 300,381.4 310,366.7 320,347.2 330,336.3 340,347.0 350,359.7 360,349.4 370,348.6 380,344.3 390,353.7 400,338.3 410,333.3 420,350.6 430,349.9 440,353.2 450,344.7 460,346.6 470,353.1 480,352.5 490,343.2 500,338.4 510,339.6 520,338.7 530,337.2 540,350.5 550,338.5 560,332.0 570,332.8 580,307.5 590,318.7 600,303.3 610,299.4 620,306.0 630,303.2 640,339.6 650,332.4 660,331.5 670,326.6 680,320.9 690,307.8" fill="none" stroke="#800080" stroke-width="1" shape-rendering="crispEdges" marker-start="url(#k5)" marker-mid="url(#k5)" marker-end="url(#k5)"/><polyline points="50,316.7 60,312.8 70,309.2 80,308.3 90,304.7 100,303.2 110,306.1 120,304.2 130,322.0 140,328.6 150,324.5 160,320.3 170,328.1 180,328.9 190,332.7 200,330.0 210,333.7 220,343.0 230,341.8 240,346.0 250,349.4 260,353.4 270,353.3 280,346.7 290,367.9 300,368.7 310,374.6 320,371.0 330,384.0 340,345.7 350,327.8 360,315.2 370,311.2 380,310.8 390,307.9 400,317.6 410,321.7 420,330.8 430,330.0 440,343.4 450,343.7 460,346.1 470,345.3 480,343.0 490,334.0 500,329.9 510,330.5 520,319.0 530,332.5 540,343.5 550,343.5 560,350.4 570,342.0 580,347.1 590,347.1 600,350.0 610,348.0 620,351.0 630,348.6 640,339.1 650,324.9 660,323.9 670,319.3 680,308.7 690,318.2" fill="none" stroke="#00ff80" stroke-width="1" shape-rendering="crispEdges" marker-start="url(#k6)" marker-mid="url(#k6)" marker-end="url(#k6)"/><polyline points="50,318.3 60,309.2 70,310.0 80,316.7 90,319.3 100,318.8 110,305.7 120,303.5 130,321.0 140,323.2 150,322.4 160,317.0 170,323.5 180,312.5 190,304.7 200,318.4 210,327.1 220,323.2 230,331.1 240,341.4 250,354.7 260,353.3 270,357.8 280,362.6 290,374.4 300,378.3 310,379.3 320,368.8 330,380.3 340,362.3 350,364.5 360,360.9 370,348.0 380,349.8 390,346.8 400,333.1 410,329.8 420,318.8 430,314.3 440,310.0 450,315.8 460,309.6 470,307.4 480,311.2 490,306.4 500,304.8 510,318.2 520,320.0 530,329.7 540,327.3 550,336.8 560,314.4 570,326.5 580,326.5 590,305.2 600,303.6 610,331.4 620,333.1 630,347.5 640,337.5 650,337.8 660,338.5 670,329.8 680,331.8 690,324.2" fill="none" stroke="#ff00ff" stroke-width="1" shape-rendering="crispEdges" marker-start="url(#k7)" marker-mid="url(#k7)" marker-end="url(#k7)"/><polyline points="50,315.5 60,310.3 70,310.7 80,310.7 90,304.6 100,306.4 110,302.5 120,299.9 130,308.1 140,319.2 150,312.0 160,310.7 170,314.0 180,318.5 190,314.4 200,324.3 210,334.2 220,342.0 230,344.5 240,346.2 250,349.8 260,352.6 270,355.2 280,345.7 290,334.4 300,339.1 310,328.6 320,329.1 330,326.8 340,318.2 350,316.3 360,312.2 370,312.6 380,317.5 390,318.2 400,313.3 410,315.7 420,314.4 430,313.3 440,312.9 450,319.5 460,326.4 470,326.5 480,326.1 490,333.4 500,317.6 510,309.3 520,309.4 530,315.2 540,303.8 550,313.6 560,312.5 570,305.0 580,314.1 590,310.3 600,323.6 610,308.3 620,306.9 630,303.2 640,301.3 650,296.9 660,299.3 670,291.4 680,298.5 690,317.7" fill="none" stroke="#80ff00" stroke-width="1" shape-rendering="crispEdges" marker-start="url(#k8)" marker-mid="url(#k8)" marker-end="url(#k8)"/><polyline points="50,318.6 60,313.9 70,312.9 80,309.2 90,304.8 100,301.7 110,298.8 120,301.1 130,320.4 140,321.4 150,321.1 160,320.4 170,316.7 180,313.5 190,306.7 200,315.1 210,315.2 220,329.1 230,343.3 240,336.1 250,350.2 260,352.7 270,356.5 280,355.6 290,371.2 300,376.2 310,377.1 320,351.5 330,356.3 340,354.5 350,328.0 360,325.6 370,317.0 380,313.6 390,318.1 400,311.1 410,321.0 420,339.6 430,339.3 440,332.9 450,332.1 460,319.8 470,314.6 480,312.9 490,307.9 500,304.1 510,306.3 520,309.9 530,311.6 540,313.7 550,309.9 560,293.4 570,288.8 580,294.6 590,293.2 600,295.6 610,302.5 620,306.2 630,309.1 640,310.6 650,336.4 660,336.1 670,322.6 680,324.7 690,303.5" fill="none" stroke="#0080ff" stroke-width="1" shape-rendering="crispEdges" marker-start="url(#k9)" marker-mid="url(#k9)" marker-end="url(#k9)"/><polyline points="50,318.2 60,316.9 70,309.1 80,314.6 90,302.7 100,303.7 110,298.9 120,295.5 130,303.8 140,307.0 150,315.2 160,315.8 170,316.6 180,315.1 190,327.9 200,323.8 210,335.8 220,347.1 230,344.6 240,346.1 250,348.0 260,354.4 270,357.3 280,366.4 290,370.4 300,374.2 310,379.6 320,360.6 330,334.5 340,344.3 350,355.1 360,326.2 370,311.7 380,343.1 390,342.1 400,346.2 410,344.7 420,353.2 430,352.0 440,355.7 450,328.5 460,334.7 470,335.7 480,325.6 490,308.8 500,304.8 510,307.2 520,315.8 530,314.5 540,301.2 550,308.0 560,293.9 570,298.8 580,298.2 590,298.0 600,306.5 610,321.6 620,305.3 630,302.6 640,304.2 650,306.8 660,301.7 670,303.9 680,289.8 690,292.4" fill="none" stroke="#8080ff" stroke-width="1" shape-rendering="crispEdges" marker-start="url(#k10)" marker-mid="url(#k10)" marker-end="url(#k10)"/><polyline points="50,322.5 60,318.0 70,315.1 80,322.6 90,320.4 100,321.4 110,306.8 120,304.2 130,323.6 140,327.0 150,325.4 160,324.0 170,330.1 180,327.5 190,329.2 200,321.0 210,319.1 220,323.7 230,326.5 240,328.0 250,331.1 260,338.9 270,340.1 280,367.3 290,355.3 300,359.7 310,367.1 320,340.3 330,355.7 340,343.2 350,354.0 360,358.1 370,341.6 380,341.4 390,351.6 400,335.4 410,322.4 420,329.4 430,317.7 440,309.7 450,307.0 460,305.2 470,305.0 480,299.3 490,301.3 500,300.7 510,307.0 520,295.8 530,298.9 540,298.0 550,327.5 560,326.6 570,323.5 580,322.7 590,306.1 600,296.1 610,298.3 620,307.2 630,317.9 640,317.7 650,326.5 660,327.2 670,314.8 680,304.7 690,287.6" fill="none" stroke="#80ff80" stroke-width="1" shape-rendering="crispEdges" marker-start="url(#k11)" marker-mid="url(#k11)" marker-end="url(#k11)"/><polyline points="50,325.6 60,319.5 70,313.8 80,320.3 90,321.4 100,312.3 110,301.6 120,298.7 130,306.4 140,316.1 150,323.2 160,315.6 170,316.7 180,325.8 190,328.0 200,318.9 210,332.8 220,348.7 230,352.3 240,349.9 250,354.1 260,355.6 270,362.9 280,368.8 290,374.2 300,381.6 310,367.7 320,355.4 330,351.6 340,361.1 350,368.6 360,351.9 370,344.8 380,324.5 390,347.3 400,332.4 410,335.3 420,336.7 430,337.8 440,343.6 450,340.9 460,339.0 470,336.0 480,340.1 490,337.2 500,333.6 510,334.8 520,332.4 530,331.1 540,344.4 550,336.2 560,332.9 570,322.7 580,319.4 590,323.8 600,308.4 610,323.5 620,319.6 630,315.7 640,302.4 650,302.9 660,299.8 670,321.1 680,315.6 690,313.4" fill="none" stroke="#8080ff" stroke-width="1" shape-rendering="crispEdges" marker-start="url(#k12)" marker-mid="url(#k12)" marker-end="url(#k12)"/><polyline points="50,318.4 60,319.3 70,314.1 80,319.5 90,318.4 100,307.2 110,304.9 120,299.3 130,320.2 140,323.6 150,322.0 160,317.7 170,326.2 180,323.8 190,326.0 200,318.6 210,325.8 220,346.3 230,337.8 240,344.4 250,349.4 260,348.4 270,340.5 280,338.0 290,377.0 300,386.3 310,334.2 320,332.2 330,331.0 340,337.2 350,332.1 360,321.2 370,317.9 380,318.7 390,314.5 400,322.2 410,328.5 420,311.9 430,309.5 440,305.8 450,308.7 460,314.2 470,331.4 480,328.5 490,312.0 500,311.6 510,307.9 520,311.2 530,311.1 540,307.4 550,299.5 560,290.8 570,298.8 580,297.4 590,295.3 600,295.3 610,303.1 620,302.5 630,306.3 640,304.0 650,308.1 660,324.8 670,307.1 680,297.9 690,321.2" fill="none" stroke="#e0b040" stroke-width="1" shape-rendering="crispEdges" marker-start="url(#k13)" marker-mid="url(#k13)" marker-end="url(#k13)"/><polyline points="50,316.9 60,309.2 70,308.3 80,308.8 90,304.7 100,303.2 110,301.0 120,297.3 130,304.7 140,312.2 150,315.9 160,319.6 170,325.1 180,318.3 190,315.8 200,319.5 210,327.2 220,323.6 230,326.0 240,328.3 250,331.9 260,336.1 270,334.5 280,331.7 290,325.0 300,338.6 310,331.2 320,322.4 330,318.1 340,315.6 350,311.1 360,319.8 370,312.8 380,318.7 390,335.4 400,336.4 410,339.0 420,344.4 430,334.8 440,339.2 450,335.2 460,334.8 470,314.4 480,309.3 490,315.1 500,307.6 510,301.3 520,305.2 530,300.2 540,291.6 550,312.6 560,306.2 570,307.0 580,302.2 590,291.5 600,298.2 610,321.4 620,328.0 630,325.9 640,331.6 650,324.9 660,334.7 670,322.1 680,305.3 690,287.8" fill="none" stroke="#80a000" stroke-width="1" shape-rendering="crispEdges" marker-start="url(#k14)" marker-mid="url(#k14)" marker-end="url(#k14)"/><polyline points="50,320.2 60,311.4 70,312.4 80,317.2 90,317.1 100,316.4 110,306.6 120,304.5 130,318.7 140,324.9 150,323.1 160,320.1 170,325.7 180,325.2 190,315.5 200,319.2 210,317.2 220,332.3 230,331.9 240,341.3 250,350.7 260,349.7 270,350.6 280,343.5 290,335.8 300,368.4 310,356.2 320,329.9 330,329.9 340,323.6 350,315.8 360,307.9 370,320.0 380,322.9 390,325.2 400,329.4 410,316.8 420,333.6 430,345.5 440,342.7 450,336.8 460,329.8 470,315.5 480,312.4 490,306.4 500,315.3 510,317.8 520,329.4 530,309.6 540,313.4 550,310.2 560,301.1 570,296.2 580,295.6 590,287.3 600,288.9 610,293.3 620,298.1 630,307.0 640,324.9 650,299.7 660,299.6 670,317.4 680,323.0 690,324.3" fill="none" stroke="#006080" stroke-width="1" shape-rendering="crispEdges" marker-start="url(#k15)" marker-mid="url(#k15)" marker-end="url(#k15)"/><polyline points="50,321.7 60,313.1 70,311.0 80,309.9 90,314.3 100,313.2 110,305.0 120,301.0 130,309.9 140,314.6 150,314.8 160,313.1 170,312.5 180,317.7 190,323.2 200,327.5 210,321.5 220,326.5 230,330.1 240,335.0 250,345.1 260,341.0 270,342.4 280,347.3 290,360.3 300,348.4 310,371.3 320,360.7 330,359.5 340,337.1 350,328.6 360,330.3 370,319.7 380,305.6 390,316.5 400,325.2 410,331.1 420,329.9 430,332.6 440,336.9 450,342.3 460,336.1 470,345.2 480,340.2 490,336.7 500,328.3 510,331.9 520,335.5 530,331.4 540,339.5 550,338.3 560,335.0 570,329.3 580,329.8 590,333.2 600,338.2 610,324.3 620,325.8 630,325.2 640,306.4 650,316.3 660,326.0 670,318.8 680,290.8 690,299.2" fill="none" stroke="#507080" stroke-width="1" shape-rendering="crispEdges" marker-start="url(#k16)" marker-mid="url(#k16)" marker-end="url(#k16)"/><polyline points="50,319.9 60,313.6 70,313.1 80,316.8 90,306.6 100,315.9 110,305.1 120,299.7 130,307.2 140,310.8 150,314.0 160,316.0 170,326.9 180,324.8 190,325.0 200,320.9 210,318.2 220,320.7 230,325.5 240,325.5 250,329.2 260,336.8 270,339.8 280,338.2 290,338.5 300,340.7 310,361.0 320,336.1 330,360.7 340,346.1 350,365.4 360,357.1 370,347.6 380,338.6 390,314.3 400,329.2 410,329.9 420,332.9 430,329.0 440,313.2 450,319.1 460,332.6 470,339.0 480,326.9 490,331.5 500,333.1 510,333.3 520,327.7 530,310.0 540,321.6 550,331.0 560,313.7 570,301.6 580,304.6 590,301.9 600,298.1 610,321.5 620,304.2 630,317.8 640,339.1 650,321.4 660,320.5 670,286.2 680,279.1 690,279.1" fill="none" stroke="#806070" stroke-width="1" shape-rendering="crispEdges" marker-start="url(#k17)" marker-mid="url(#k17)" marker-end="url(#k17)"/><polyline points="50,317.7 60,312.1 70,309.9 80,311.0 90,308.3 100,315.2 110,300.2 120,300.0 130,319.4 140,324.0 150,323.1 160,321.3 170,313.0 180,314.1 190,323.1 200,326.1 210,334.4 220,342.4 230,336.1 240,334.7 250,332.6 260,340.7 270,342.5 280,330.3 290,322.4 300,329.7 310,326.7 320,328.4 330,327.0 340,320.5 350,314.4 360,311.5 370,307.2 380,304.9 390,310.3 400,319.4 410,317.4 420,314.3 430,311.3 440,313.2 450,315.7 460,309.9 470,306.6 480,311.6 490,329.2 500,324.9 510,330.9 520,312.6 530,314.7 540,306.7 550,333.9 560,331.6 570,322.6 580,331.8 590,305.5 600,305.9 610,303.4 620,308.2 630,306.5 640,302.3 650,297.2 660,298.9 670,318.7 680,314.5 690,321.0" fill="none" stroke="#c0c0c0" stroke-width="1" shape-rendering="crispEdges" marker-start="url(#k18)" marker-mid="url(#k18)" marker-end="url(#k18)"/><polyline points="50,317.7 60,316.7 70,315.3 80,313.8 90,313.3 100,313.6 110,305.2 120,303.0 130,313.2 140,309.9 150,316.2 160,314.6 170,313.8 180,319.9 190,313.3 200,317.4 210,319.6 220,329.7 230,340.6 240,334.2 250,344.8 260,347.0 270,357.2 280,362.5 290,374.4 300,383.2 310,371.6 320,364.3 330,380.1 340,367.8 350,372.1 360,369.6 370,358.0 380,368.9 390,351.6 400,337.1 410,334.1 420,332.3 430,321.5 440,341.8 450,316.5 460,335.3 470,320.5 480,332.8 490,339.9 500,335.9 510,339.2 520,339.6 530,334.8 540,329.0 550,326.0 560,334.0 570,307.7 580,292.0 590,294.8 600,304.6 610,307.4 620,331.6 630,337.8 640,309.6 650,298.2 660,295.8 670,293.2 680,282.2 690,305.0" fill="none" stroke="#808080" stroke-width="1" shape-rendering="crispEdges" marker-start="url(#k19)" marker-mid="url(#k19)" marker-end="url(#k19)"/><polyline id="L5" points="50,319.0 60,315.0 70,312.0 80,313.0 90,320.0 100,320.5 110,306.0 120,301.6 130,305.8 140,310.7 150,312.5 160,313.1 170,316.0 180,318.0 190,320.0 200,322.0 210,327.0 220,330.0 230,332.0 240,331.0 250,334.0 260,335.8 270,335.8 280,336.4 290,336.4 300,338.9 310,338.2 320,332.2 330,331.0 340,328.4 350,324.6 360,323.9 370,328.0 380,333.6 390,337.4 400,338.5 410,336.0 420,333.8 430,330.1 440,327.7 450,326.5 460,324.0 470,322.0 480,322.0 490,321.0 500,320.0 510,319.0 520,318.0 530,318.0 540,317.6 550,316.3 560,314.0 570,311.8 580,311.8 590,311.0 600,310.0 610,308.0 620,307.0 630,304.0 640,300.4 650,297.1 660,293.9 670,290.1" fill="none" stroke="#000" stroke-width="1" shape-rendering="crispEdges" /><use href="#L5" x="0" y="-1"/><use href="#L5" x="0" y="1"/><polyline points="50,319.0 60,315.0 70,312.0 80,313.0 90,320.0 100,320.5 110,306.0 120,301.6 130,305.8 140,310.7 150,312.5 160,313.1 170,316.0 180,318.0 190,320.0 200,322.0 210,327.0 220,330.0 230,332.0 240,331.0 250,334.0 260,335.8 270,335.8 280,336.4 290,336.4 300,338.9 310,338.2 320,332.2 330,331.0 340,328.4 350,324.6 360,323.9 370,328.0 380,333.6 390,337.4 400,338.5 410,336.0 420,333.8 430,330.1 440,327.7 450,326.5 460,324.0 470,322.0 480,322.0 490,321.0 500,320.0 510,319.0 520,318.0 530,318.0 540,317.6 550,316.3 560,314.0 570,311.8 580,311.8 590,311.0 600,310.0 610,308.0 620,307.0 630,304.0 640,300.4 650,297.1 660,293.9 670,290.1" fill="none" stroke="#ffff00" stroke-width="1" stroke-dasharray="2 2" shape-rendering="crispEdges"/><polyline id="L6" points="50,319.0 60,315.0 70,311.0 80,307.4 90,310.0 100,308.0 110,301.3 120,299.5 130,311.3 140,307.0 150,315.0 160,315.5 170,318.0 180,320.0 190,322.0 200,324.0 210,330.0 220,341.4 230,352.3 240,326.1 250,332.8 260,338.9 270,350.0 280,364.0 290,376.6 300,357.7 310,339.5 320,337.0 330,338.0 340,345.1 350,358.0 360,350.3 370,341.3 380,335.0 390,330.0 400,322.8 410,321.6 420,322.2 430,322.0 440,322.0 450,321.0 460,323.0 470,326.2 480,329.0 490,333.5 500,338.4 510,333.5 520,330.0 530,330.0 540,329.1 550,331.7 560,335.6 570,339.4 580,343.3 590,348.4 600,354.9 610,348.5 620,343.0 630,341.5 640,339.6 650,341.5 660,344.1 670,341.5 680,338.9" fill="none" stroke="#000" stroke-width="1" shape-rendering="crispEdges" /><use href="#L6" x="0" y="-1"/><use href="#L6" x="0" y="1"/><polyline id="L7" points="50,319.2 60,315.6 70,312.5 80,313.1 90,310.7 100,308.3 110,304.6 120,302.6 130,315.7 140,322.5 150,321.9 160,319.5 170,314.0 180,321.9 190,321.8 200,322.3 210,329.5 220,334.4 230,335.6 240,338.0 250,342.5 260,346.6 270,347.6 280,349.1 290,349.7 300,351.5 310,347.3 320,348.4 330,345.5 340,357.0 350,372.2 360,371.0 370,345.1 380,344.0 390,344.0 400,345.0 410,339.7 420,335.4 430,318.0 440,311.3 450,311.9 460,312.5 470,315.3 480,315.9 490,316.5 500,325.0 510,329.9 520,328.0 530,327.5 540,327.4 550,326.6 560,324.0 570,320.0 580,308.6 590,301.5 600,302.1 610,307.3 620,308.0 630,306.1 640,299.7 650,301.0 660,301.0 670,298.4 680,295.2 690,296.5" fill="none" stroke="#0000ff" stroke-width="1" shape-rendering="crispEdges" /><use href="#L7" x="0" y="-1"/><use href="#L7" x="0" y="1"/><polyline id="L8" points="50,319.4 60,315.8 70,312.7 80,313.3 90,310.9 100,308.5 110,304.8 120,302.8 130,315.9 140,322.7 150,322.1 160,319.7 170,322.1 180,322.1 190,322.0 200,322.5 210,329.7 220,334.6 230,335.8 240,338.2 250,342.5 260,346.6 270,347.6 280,349.1 290,349.7 300,351.5 310,347.3 320,343.0 330,340.8 340,338.7 350,336.6 360,334.7 370,333.4 380,332.8 390,330.2 400,327.3 410,326.7 420,325.8 430,323.9 440,322.1 450,322.7 460,325.2 470,324.5 480,322.9 490,323.1 500,323.1 510,323.1 520,320.6 530,323.1 540,325.0 550,323.2 560,320.6 570,318.1 580,316.1 590,314.2 600,312.9 610,312.7 620,312.4 630,312.4 640,313.1 650,315.0 660,315.0 670,311.8 680,308.6 690,310.5" fill="none" stroke="#ff0000" stroke-width="1" shape-rendering="crispEdges" /><use href="#L8" x="0" y="-2"/><use href="#L8" x="0" y="-1"/><use href="#L8" x="0" y="1"/><polyline points="60,545.0 70,544.3 80,506.0 90,545.0 100,544.0 110,545.0 120,535.0 130,545.0 140,545.0 150,545.0 160,542.1 170,545.0 180,499.0 190,543.2 200,545.0 210,544.9 220,544.8 230,537.9 240,539.8 250,516.3 260,537.4 270,523.9 280,497.1 290,545.0 300,540.3 310,545.0 320,497.1 330,536.3 340,542.9 350,537.9 360,504.9 370,543.3 380,545.0 390,530.8 400,545.0 410,545.0 420,545.0 430,519.8 440,542.8 450,545.0 460,545.0 470,544.6 480,533.9 490,545.0 500,545.0 510,534.3 520,540.5 530,533.6 540,545.0 550,537.8 560,539.5 570,538.1 580,543.9 590,545.0 600,544.6 610,541.5 620,545.0 630,542.7 640,542.5 650,545.0 660,545.0 670,545.0 680,531.7 690,545.0" fill="none" stroke="#008080" stroke-width="1" shape-rendering="crispEdges" marker-start="url(#k0)" marker-mid="url(#k0)" marker-end="url(#k0)"/><polyline points="60,545.0 70,532.7 80,495.3 90,502.1 100,467.0 110,538.0 120,513.2 130,545.0 140,543.0 150,545.0 160,545.0 170,545.0 180,545.0 190,544.8 200,521.2 210,520.0 220,541.7 230,545.0 240,487.5 250,532.8 260,536.9 270,460.0 280,535.3 290,545.0 300,545.0 310,514.5 320,544.1 330,544.1 340,544.9 350,544.5 360,529.2 370,541.8 380,545.0 390,545.0 400,545.0 410,544.3 420,545.0 430,504.0 440,544.2 450,545.0 460,545.0 470,545.0 480,544.4 490,545.0 500,530.0 510,511.3 520,501.6 530,539.0 540,545.0 550,544.8 560,541.4 570,545.0 580,545.0 590,545.0 600,528.7 610,543.6 620,545.0 630,521.7 640,541.2 650,536.9 660,535.0 670,544.2 680,515.3 690,545.0" fill="none" stroke="#c0c000" stroke-width="1" shape-rendering="crispEdges" marker-start="url(#k1)" marker-mid="url(#k1)" marker-end="url(#k1)"/><polyline points="60,545.0 70,541.4 80,528.4 90,516.2 100,539.7 110,545.0 120,545.0 130,545.0 140,545.0 150,545.0 160,545.0 170,545.0 180,544.3 190,538.9 200,531.6 210,545.0 220,545.0 230,537.3 240,508.2 250,545.0 260,541.6 270,545.0 280,540.4 290,510.7 300,530.6 310,521.3 320,525.6 330,544.7 340,545.0 350,512.5 360,543.7 370,545.0 380,544.7 390,543.3 400,539.1 410,537.8 420,545.0 430,544.9 440,545.0 450,545.0 460,545.0 470,516.3 480,520.5 490,545.0 500,545.0 510,521.5 520,506.0 530,545.0 540,535.7 550,540.1 560,544.9 570,545.0 580,542.2 590,500.0 600,505.2 610,545.0 620,545.0 630,545.0 640,544.9 650,545.0 660,545.0 670,545.0 680,545.0 690,545.0" fill="none" stroke="#008000" stroke-width="1" shape-rendering="crispEdges" marker-start="url(#k2)" marker-mid="url(#k2)" marker-end="url(#k2)"/><polyline points="60,545.0 70,544.7 80,545.0 90,532.8 100,526.5 110,545.0 120,544.4 130,545.0 140,545.0 150,545.0 160,544.1 170,545.0 180,545.0 190,543.8 200,535.8 210,540.6 220,545.0 230,537.7 240,525.0 250,540.7 260,539.8 270,513.4 280,519.3 290,545.0 300,537.2 310,496.8 320,509.0 330,539.5 340,544.8 350,534.2 360,512.6 370,527.6 380,545.0 390,544.3 400,542.5 410,545.0 420,545.0 430,545.0 440,545.0 450,545.0 460,545.0 470,544.9 480,517.4 490,545.0 500,545.0 510,542.4 520,544.9 530,545.0 540,545.0 550,544.3 560,543.8 570,545.0 580,545.0 590,545.0 600,512.5 610,536.4 620,545.0 630,544.1 640,545.0 650,545.0 660,545.0 670,544.9 680,541.8 690,540.6" fill="none" stroke="#ff8000" stroke-width="1" shape-rendering="crispEdges" marker-start="url(#k3)" marker-mid="url(#k3)" marker-end="url(#k3)"/><polyline points="60,538.0 70,537.4 80,470.8 90,505.5 100,543.0 110,545.0 120,522.7 130,545.0 140,545.0 150,545.0 160,533.1 170,545.0 180,545.0 190,530.7 200,511.9 210,523.9 220,545.0 230,538.1 240,517.1 250,545.0 260,537.3 270,493.7 280,439.0 290,446.0 300,518.0 310,544.9 320,542.4 330,538.0 340,537.7 350,544.8 360,545.0 370,545.0 380,545.0 390,545.0 400,544.7 410,545.0 420,545.0 430,545.0 440,545.0 450,545.0 460,545.0 470,505.3 480,538.2 490,545.0 500,545.0 510,545.0 520,524.5 530,542.1 540,545.0 550,543.8 560,504.2 570,545.0 580,538.1 590,536.9 600,544.9 610,544.9 620,545.0 630,545.0 640,545.0 650,545.0 660,545.0 670,544.7 680,539.6 690,545.0" fill="none" stroke="#00ff00" stroke-width="1" shape-rendering="crispEdges" marker-start="url(#k4)" marker-mid="url(#k4)" marker-end="url(#k4)"/><polyline points="60,545.0 70,526.0 80,468.0 90,479.9 100,530.7 110,545.0 120,542.7 130,545.0 140,545.0 150,545.0 160,545.0 170,545.0 180,545.0 190,544.2 200,529.2 210,527.4 220,544.6 230,539.8 240,528.6 250,523.0 260,537.1 270,544.0 280,450.8 290,530.0 300,510.0 310,531.3 320,538.6 330,543.7 340,543.5 350,545.0 360,545.0 370,545.0 380,545.0 390,545.0 400,545.0 410,535.7 420,545.0 430,529.9 440,538.3 450,545.0 460,545.0 470,491.1 480,507.6 490,545.0 500,545.0 510,540.6 520,545.0 530,545.0 540,545.0 550,544.9 560,544.4 570,545.0 580,545.0 590,545.0 600,518.8 610,545.0 620,545.0 630,527.1 640,524.9 650,530.0 660,545.0 670,545.0 680,545.0 690,545.0" fill="none" stroke="#800080" stroke-width="1" shape-rendering="crispEdges" marker-start="url(#k5)" marker-mid="url(#k5)" marker-end="url(#k5)"/><polyline points="60,545.0 70,530.2 80,498.7 90,474.0 100,534.3 110,545.0 120,540.2 130,545.0 140,545.0 150,545.0 160,545.0 170,545.0 180,538.2 190,533.2 200,526.7 210,537.5 220,545.0 230,540.5 240,498.3 250,544.7 260,541.0 270,450.3 280,444.9 290,495.2 300,521.6 310,543.6 320,518.3 330,540.7 340,544.6 350,544.1 360,519.2 370,544.6 380,545.0 390,544.9 400,545.0 410,545.0 420,545.0 430,540.1 440,543.6 450,545.0 460,545.0 470,538.7 480,504.1 490,545.0 500,545.0 510,544.9 520,521.2 530,545.0 540,545.0 550,545.0 560,542.8 570,545.0 580,545.0 590,545.0 600,535.6 610,544.8 620,545.0 630,544.7 640,544.5 650,545.0 660,545.0 670,545.0 680,545.0 690,545.0" fill="none" stroke="#00ff80" stroke-width="1" shape-rendering="crispEdges" marker-start="url(#k6)" marker-mid="url(#k6)" marker-end="url(#k6)"/><polyline points="60,545.0 70,540.5 80,502.3 90,492.3 100,541.6 110,545.0 120,530.6 130,545.0 140,545.0 150,545.0 160,539.6 170,545.0 180,545.0 190,527.9 200,505.0 210,530.5 220,545.0 230,536.7 240,534.8 250,545.0 260,545.0 270,528.3 280,462.5 290,474.1 300,527.8 310,506.4 320,531.2 330,544.4 340,544.9 350,544.9 360,542.9 370,544.1 380,545.0 390,536.6 400,543.4 410,542.9 420,545.0 430,545.0 440,541.7 450,545.0 460,545.0 470,530.8 480,540.1 490,545.0 500,545.0 510,545.0 520,537.1 530,544.5 540,545.0 550,518.7 560,529.8 570,544.9 580,545.0 590,545.0 600,545.0 610,545.0 620,545.0 630,535.0 640,529.8 650,545.0 660,545.0 670,545.0 680,543.1 690,545.0" fill="none" stroke="#ff00ff" stroke-width="1" shape-rendering="crispEdges" marker-start="url(#k7)" marker-mid="url(#k7)" marker-end="url(#k7)"/><polyline points="60,545.0 70,538.5 80,514.0 90,489.1 100,521.7 110,545.0 120,506.0 130,545.0 140,545.0 150,545.0 160,545.0 170,545.0 180,531.6 190,537.3 200,518.3 210,533.2 220,534.9 230,539.4 240,521.2 250,543.9 260,536.7 270,469.2 280,530.1 290,544.8 300,544.5 310,526.8 320,540.8 330,545.0 340,545.0 350,540.4 360,533.0 370,545.0 380,545.0 390,541.6 400,513.0 410,539.6 420,545.0 430,545.0 440,535.7 450,545.0 460,545.0 470,535.4 480,541.8 490,545.0 500,545.0 510,538.1 520,530.2 530,544.7 540,545.0 550,530.7 560,536.9 570,544.4 580,545.0 590,544.9 600,540.1 610,545.0 620,545.0 630,545.0 640,544.1 650,545.0 660,545.0 670,545.0 680,545.0 690,545.0" fill="none" stroke="#80ff00" stroke-width="1" shape-rendering="crispEdges" marker-start="url(#k8)" marker-mid="url(#k8)" marker-end="url(#k8)"/><polyline points="60,545.0 70,545.0 80,523.1 90,476.9 100,456.0 110,545.0 120,528.1 130,545.0 140,545.0 150,545.0 160,543.0 170,545.0 180,545.0 190,545.0 200,540.9 210,543.4 220,544.1 230,537.1 240,493.0 250,544.9 260,540.1 270,535.6 280,524.7 290,543.1 300,535.2 310,544.2 320,545.0 330,544.8 340,545.0 350,545.0 360,544.9 370,545.0 380,545.0 390,545.0 400,521.3 410,544.7 420,545.0 430,542.4 440,510.5 450,545.0 460,545.0 470,541.0 480,514.2 490,545.0 500,545.0 510,545.0 520,543.9 530,544.9 540,545.0 550,545.0 560,472.2 570,492.7 580,529.3 590,518.8 600,545.0 610,545.0 620,545.0 630,537.8 640,543.5 650,544.6 660,545.0 670,545.0 680,544.7 690,545.0" fill="none" stroke="#0080ff" stroke-width="1" shape-rendering="crispEdges" marker-start="url(#k9)" marker-mid="url(#k9)" marker-end="url(#k9)"/><polyline points="60,545.0 70,535.2 80,473.6 90,495.5 100,477.2 110,545.0 120,543.7 130,545.0 140,545.0 150,545.0 160,543.6 170,545.0 180,519.8 190,524.7 200,524.0 210,544.4 220,544.9 230,542.4 240,543.4 250,545.0 260,542.4 270,544.7 280,513.8 290,544.0 300,544.8 310,545.0 320,535.5 330,532.0 340,544.0 350,500.0 360,544.2 370,539.2 380,545.0 390,544.8 400,545.0 410,540.9 420,545.0 430,545.0 440,544.9 450,545.0 460,545.0 470,545.0 480,543.2 490,545.0 500,545.0 510,545.0 520,541.9 530,543.0 540,545.0 550,500.0 560,545.0 570,545.0 580,545.0 590,545.0 600,524.2 610,545.0 620,545.0 630,544.5 640,491.9 650,545.0 660,545.0 670,545.0 680,545.0 690,545.0" fill="none" stroke="#8080ff" stroke-width="1" shape-rendering="crispEdges" marker-start="url(#k10)" marker-mid="url(#k10)" marker-end="url(#k10)"/><polyline points="60,545.0 70,543.7 80,518.4 90,486.0 100,486.6 110,545.0 120,516.5 130,545.0 140,545.0 150,545.0 160,544.9 170,545.0 180,545.0 190,545.0 200,533.8 210,544.8 220,545.0 230,538.3 240,541.8 250,544.8 260,539.4 270,542.7 280,491.4 290,544.9 300,538.9 310,534.9 320,545.0 330,545.0 340,544.4 350,522.0 360,536.0 370,545.0 380,543.9 390,538.6 400,527.7 410,545.0 420,545.0 430,545.0 440,545.0 450,545.0 460,544.7 470,544.2 480,529.0 490,545.0 500,545.0 510,543.5 520,514.1 530,543.7 540,545.0 550,545.0 560,533.7 570,541.8 580,545.0 590,545.0 600,544.8 610,545.0 620,545.0 630,531.5 640,502.5 650,545.0 660,545.0 670,533.7 680,545.0 690,545.0" fill="none" stroke="#80ff80" stroke-width="1" shape-rendering="crispEdges" marker-start="url(#k11)" marker-mid="url(#k11)" marker-end="url(#k11)"/><polyline points="60,545.0 70,527.4 80,488.7 90,524.1 100,516.1 110,545.0 120,532.9 130,545.0 140,545.0 150,545.0 160,530.0 170,543.0 180,545.0 190,545.0 200,539.4 210,545.0 220,528.0 230,541.6 240,545.0 250,545.0 260,538.8 270,507.3 280,474.2 290,535.5 300,541.6 310,539.9 320,544.8 330,545.0 340,542.0 350,543.3 360,544.8 370,545.0 380,544.9 390,534.0 400,544.9 410,542.0 420,545.0 430,545.0 440,532.5 450,545.0 460,545.0 470,545.0 480,536.2 490,545.0 500,545.0 510,544.2 520,535.1 530,545.0 540,545.0 550,541.8 560,545.0 570,545.0 580,544.9 590,545.0 600,544.2 610,544.5 620,545.0 630,545.0 640,533.8 650,544.8 660,545.0 670,520.2 680,524.9 690,545.0" fill="none" stroke="#8080ff" stroke-width="1" shape-rendering="crispEdges" marker-start="url(#k12)" marker-mid="url(#k12)" marker-end="url(#k12)"/><polyline points="60,545.0 70,531.5 80,479.5 90,498.7 100,544.9 110,545.0 120,519.7 130,545.0 140,545.0 150,545.0 160,544.7 170,545.0 180,544.7 190,542.4 200,544.1 210,543.9 220,545.0 230,539.1 240,512.8 250,508.0 260,538.6 270,486.1 280,468.4 290,522.0 300,514.1 310,544.8 320,543.5 330,541.7 340,545.0 350,542.2 360,545.0 370,544.8 380,541.4 390,545.0 400,544.5 410,544.9 420,545.0 430,543.7 440,545.0 450,545.0 460,509.7 470,545.0 480,496.8 490,520.0 500,545.0 510,545.0 520,517.8 530,525.0 540,545.0 550,534.7 560,512.2 570,544.8 580,545.0 590,545.0 600,496.8 610,545.0 620,545.0 630,544.9 640,537.0 650,540.8 660,545.0 670,542.9 680,502.1 690,545.0" fill="none" stroke="#e0b040" stroke-width="1" shape-rendering="crispEdges" marker-start="url(#k13)" marker-mid="url(#k13)" marker-end="url(#k13)"/><polyline points="60,545.0 70,536.3 80,485.5 90,537.9 100,544.6 110,545.0 120,541.6 130,544.0 140,545.0 150,545.0 160,541.0 170,545.0 180,545.0 190,521.2 200,543.3 210,535.5 220,539.2 230,536.9 240,481.7 250,538.8 260,537.7 270,477.9 280,502.7 290,545.0 300,544.1 310,541.6 320,545.0 330,545.0 340,545.0 350,529.0 360,541.8 370,534.8 380,545.0 390,544.9 400,545.0 410,544.9 420,539.0 430,544.7 440,544.8 450,545.0 460,545.0 470,545.0 480,511.0 490,545.0 500,545.0 510,528.9 520,527.5 530,544.2 540,545.0 550,525.4 560,544.8 570,545.0 580,545.0 590,542.9 600,543.6 610,545.0 620,545.0 630,543.5 640,544.8 650,544.9 660,545.0 670,545.0 680,545.0 690,545.0" fill="none" stroke="#80a000" stroke-width="1" shape-rendering="crispEdges" marker-start="url(#k14)" marker-mid="url(#k14)" marker-end="url(#k14)"/><polyline points="60,545.0 70,542.2 80,491.9 90,520.1 100,545.0 110,545.0 120,537.0 130,545.0 140,545.0 150,545.0 160,544.4 170,545.0 180,543.5 190,540.3 200,542.2 210,539.2 220,543.3 230,538.6 240,537.5 250,528.5 260,537.9 270,532.2 280,485.7 290,545.0 300,545.0 310,542.8 320,482.4 330,534.3 340,535.5 350,545.0 360,538.5 370,544.9 380,545.0 390,544.6 400,541.1 410,545.0 420,545.0 430,545.0 440,528.5 450,545.0 460,545.0 470,543.6 480,531.5 490,545.0 500,545.0 510,545.0 520,544.5 530,545.0 540,545.0 550,544.6 560,494.9 570,530.9 580,544.6 590,544.0 600,545.0 610,545.0 620,545.0 630,544.9 640,518.8 650,542.9 660,545.0 670,545.0 680,544.0 690,545.0" fill="none" stroke="#006080" stroke-width="1" shape-rendering="crispEdges" marker-start="url(#k15)" marker-mid="url(#k15)" marker-end="url(#k15)"/><polyline points="60,545.0 70,539.5 80,509.9 90,528.3 100,502.9 110,545.0 120,538.7 130,545.0 140,545.0 150,541.0 160,535.8 170,545.0 180,545.0 190,541.5 200,544.7 210,541.7 220,545.0 230,541.0 240,475.8 250,536.2 260,538.3 270,540.8 280,545.0 290,545.0 300,533.0 310,537.8 320,544.9 330,543.2 340,539.5 350,545.0 360,544.6 370,545.0 380,545.0 390,545.0 400,544.9 410,543.5 420,545.0 430,536.3 440,523.6 450,545.0 460,545.0 470,545.0 480,523.4 490,545.0 500,545.0 510,544.8 520,510.1 530,536.6 540,545.0 550,545.0 560,484.3 570,517.3 580,545.0 590,530.2 600,538.1 610,545.0 620,545.0 630,539.9 640,539.4 650,545.0 660,545.0 670,545.0 680,544.5 690,545.0" fill="none" stroke="#507080" stroke-width="1" shape-rendering="crispEdges" marker-start="url(#k16)" marker-mid="url(#k16)" marker-end="url(#k16)"/><polyline points="60,545.0 70,534.0 80,476.5 90,512.5 100,495.1 110,545.0 120,525.5 130,545.0 140,545.0 150,545.0 160,545.0 170,545.0 180,541.7 190,535.4 200,508.5 210,544.6 220,545.0 230,538.8 240,531.8 250,544.4 260,539.1 270,518.9 280,456.7 290,539.2 300,542.6 310,544.6 320,545.0 330,544.9 340,545.0 350,545.0 360,545.0 370,545.0 380,545.0 390,542.6 400,532.6 410,544.6 420,545.0 430,545.0 440,540.2 450,545.0 460,537.4 470,542.5 480,545.0 490,545.0 500,545.0 510,544.6 520,543.0 530,529.8 540,545.0 550,510.4 560,519.1 570,545.0 580,545.0 590,540.7 600,542.8 610,545.0 620,530.0 630,515.0 640,511.4 650,544.0 660,545.0 670,540.1 680,545.0 690,545.0" fill="none" stroke="#806070" stroke-width="1" shape-rendering="crispEdges" marker-start="url(#k17)" marker-mid="url(#k17)" marker-end="url(#k17)"/><polyline points="60,545.0 70,528.8 80,482.5 90,482.9 100,509.9 110,545.0 120,509.7 130,545.0 140,545.0 150,545.0 160,544.8 170,545.0 180,545.0 190,544.9 200,515.1 210,545.0 220,545.0 230,537.4 240,503.3 250,543.2 260,540.5 270,500.8 280,479.9 290,541.6 300,543.4 310,545.0 320,544.6 330,542.6 340,540.9 350,545.0 360,524.7 370,545.0 380,511.3 390,543.9 400,544.1 410,545.0 420,545.0 430,545.0 440,544.5 450,545.0 460,545.0 470,544.8 480,526.3 490,545.0 500,545.0 510,545.0 520,538.9 530,544.9 540,545.0 550,545.0 560,524.9 570,543.6 580,510.7 590,544.5 600,532.5 610,525.0 620,545.0 630,545.0 640,545.0 650,545.0 660,545.0 670,545.0 680,544.9 690,545.0" fill="none" stroke="#c0c0c0" stroke-width="1" shape-rendering="crispEdges" marker-start="url(#k18)" marker-mid="url(#k18)" marker-end="url(#k18)"/><polyline points="60,545.0 70,543.0 80,534.6 90,509.0 100,537.3 110,545.0 120,544.8 130,545.0 140,545.0 150,545.0 160,537.9 170,545.0 180,544.9 190,544.5 200,537.7 210,542.7 220,545.0 230,540.1 240,544.5 250,542.2 260,538.1 270,538.5 280,508.3 290,544.5 300,524.8 310,545.0 320,545.0 330,545.0 340,545.0 350,545.0 360,540.4 370,545.0 380,533.6 390,540.3 400,536.3 410,544.0 420,545.0 430,544.3 440,517.7 450,534.0 460,543.5 470,524.6 480,500.5 490,545.0 500,545.0 510,497.6 520,532.8 530,540.7 540,545.0 550,543.0 560,458.6 570,545.0 580,473.2 590,544.8 600,541.6 610,545.0 620,545.0 630,541.5 640,545.0 650,545.0 660,545.0 670,545.0 680,536.4 690,545.0" fill="none" stroke="#808080" stroke-width="1" shape-rendering="crispEdges" marker-start="url(#k19)" marker-mid="url(#k19)" marker-end="url(#k19)"/><polyline id="L9" points="60,545.0 70,541.0 80,533.0 90,538.0 100,540.0 110,545.0 120,545.0 130,545.0 140,545.0 150,545.0 160,545.0 170,545.0 180,545.0 190,545.0 200,545.0 210,545.0 220,545.0 230,545.0 240,545.0 250,545.0 260,545.0 270,530.0 280,520.0 290,525.0 300,535.0 310,540.0 320,545.0 330,545.0 340,545.0 350,545.0 360,545.0 370,545.0 380,545.0 390,545.0 400,545.0 410,535.0 420,538.0 430,540.0 440,540.0 450,540.0 460,539.0 470,538.0 480,536.0 490,533.0 500,530.0 510,525.1 520,521.0 530,517.0 540,530.8 550,542.0 560,535.0 570,522.7 580,535.0 590,540.0 600,542.0 610,537.0 620,538.0 630,540.0 640,541.0 650,543.0 660,545.0 670,545.0" fill="none" stroke="#000" stroke-width="1" shape-rendering="crispEdges" /><use href="#L9" x="0" y="-1"/><use href="#L9" x="0" y="1"/><polyline points="60,545.0 70,541.0 80,533.0 90,538.0 100,540.0 110,545.0 120,545.0 130,545.0 140,545.0 150,545.0 160,545.0 170,545.0 180,545.0 190,545.0 200,545.0 210,545.0 220,545.0 230,545.0 240,545.0 250,545.0 260,545.0 270,530.0 280,520.0 290,525.0 300,535.0 310,540.0 320,545.0 330,545.0 340,545.0 350,545.0 360,545.0 370,545.0 380,545.0 390,545.0 400,545.0 410,535.0 420,538.0 430,540.0 440,540.0 450,540.0 460,539.0 470,538.0 480,536.0 490,533.0 500,530.0 510,525.1 520,521.0 530,517.0 540,530.8 550,542.0 560,535.0 570,522.7 580,535.0 590,540.0 600,542.0 610,537.0 620,538.0 630,540.0 640,541.0 650,543.0 660,545.0 670,545.0" fill="none" stroke="#ffff00" stroke-width="1" stroke-dasharray="2 2" shape-rendering="crispEdges"/><polyline id="L10" points="60,542.0 70,530.0 80,423.0 90,536.0 100,506.0 110,542.0 120,540.0 130,545.0 140,545.0 150,545.0 160,521.2 170,545.0 180,545.0 190,540.0 200,500.1 210,540.0 220,545.0 230,540.0 240,512.3 250,540.0 260,545.0 270,523.4 280,525.6 290,430.4 300,523.4 310,525.6 320,540.0 330,545.0 340,545.0 350,540.0 360,540.0 370,545.0 380,545.0 390,545.0 400,545.0 410,540.0 420,543.0 430,542.0 440,540.0 450,535.7 460,533.2 470,530.8 480,522.0 490,513.8 500,527.6 510,535.0 520,540.0 530,540.0 540,539.0 550,542.2 560,541.3 570,537.3 580,521.0 590,504.9 600,496.0 610,487.0 620,501.6 630,513.0 640,521.0 650,529.6 660,528.0 670,524.9 680,534.3 690,542.2" fill="none" stroke="#000" stroke-width="1" shape-rendering="crispEdges" /><use href="#L10" x="0" y="-1"/><use href="#L10" x="0" y="1"/><polyline id="L11" points="60,545.5 70,540.5 80,490.5 90,505.5 100,520.5 110,545.5 120,545.5 130,545.5 140,545.5 150,545.5 160,545.5 170,545.5 180,545.5 190,540.5 200,510.5 210,535.5 220,545.5 230,545.5 240,540.5 250,545.5 260,545.5 270,519.5 280,402.1 290,499.5 300,540.5 310,545.5 320,545.5 330,545.5 340,545.5 350,530.5 360,507.8 370,545.5 380,545.5 390,545.5 400,545.5 410,545.5 420,545.5 430,545.5 440,545.5 450,545.5 460,545.5 470,545.5 480,540.5 490,545.5 500,545.5 510,545.5 520,540.5 530,545.5 540,545.5 550,540.5 560,530.5 570,545.5 580,545.5 590,545.5 600,545.5 610,545.5 620,545.5 630,545.5 640,545.5 650,545.5 660,545.5 670,545.5 680,545.5 690,545.5" fill="none" stroke="#0000ff" stroke-width="1" shape-rendering="crispEdges" /><use href="#L11" x="0" y="1"/><polyline id="L12" points="60,545.5 70,537.7 80,499.7 90,505.7 100,519.7 110,545.5 120,531.7 130,545.5 140,545.5 150,545.5 160,542.7 170,545.5 180,541.7 190,539.5 200,530.7 210,539.5 220,543.9 230,538.4 240,519.5 250,539.0 260,539.5 270,514.0 280,494.1 290,531.7 300,535.0 310,536.1 320,535.0 330,542.7 340,543.9 350,539.1 360,537.4 370,543.9 380,543.9 390,543.0 400,540.6 410,543.9 420,545.5 430,541.4 440,539.0 450,545.5 460,544.3 470,537.4 480,526.0 490,545.5 500,545.5 510,539.0 520,530.9 530,542.2 540,545.5 550,537.8 560,524.8 570,541.4 580,540.6 590,541.4 600,534.9 610,544.3 620,545.5 630,540.2 640,535.1 650,544.3 660,545.5 670,543.9 680,540.0 690,545.5" fill="none" stroke="#ff0000" stroke-width="1" shape-rendering="crispEdges" /><use href="#L12" x="0" y="-2"/><use href="#L12" x="0" y="-1"/><use href="#L12" x="0" y="1"/></svg></body></html>
